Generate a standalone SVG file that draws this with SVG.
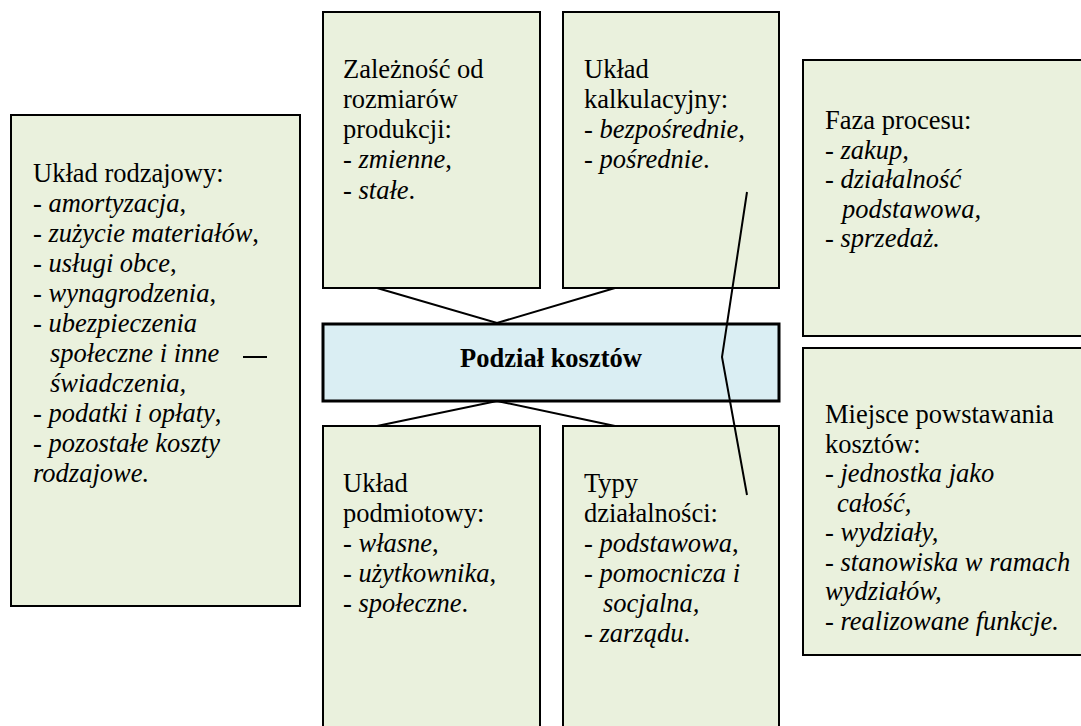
<svg xmlns="http://www.w3.org/2000/svg" width="1081" height="726" viewBox="0 0 1081 726">
<style>
.box{fill:#EAF1DD;stroke:#000;stroke-width:2}
.center{fill:#DAEEF3;stroke:#000;stroke-width:3}
text{font-family:'Liberation Serif','Times New Roman',serif;font-size:26.5px;fill:#000}
.i{font-style:italic}
.b{font-weight:bold}
.con{fill:none;stroke:#000;stroke-width:2}
</style>
<rect width="1081" height="726" fill="#fff"/>
<g id="uklad-rodzajowy">
<rect class="box" x="11" y="115" width="289" height="491"/>
<text x="33" y="182">Układ rodzajowy:</text>
<text x="33" y="212">- <tspan class="i">amortyzacja</tspan>,</text>
<text x="33" y="242">- <tspan class="i">zużycie materiałów</tspan>,</text>
<text x="33" y="272">- <tspan class="i">usługi obce</tspan>,</text>
<text x="33" y="302">- <tspan class="i">wynagrodzenia</tspan>,</text>
<text x="33" y="332">- <tspan class="i">ubezpieczenia</tspan></text>
<text x="50" y="362" class="i">społeczne i inne</text>
<text x="50" y="392" class="i">świadczenia,</text>
<text x="33" y="422">- <tspan class="i">podatki i opłaty</tspan>,</text>
<text x="33" y="452">- <tspan class="i">pozostałe koszty</tspan></text>
<text x="33" y="482" class="i">rodzajowe.</text>
</g>
<g id="zaleznosc">
<rect class="box" x="323" y="12" width="217" height="276"/>
<text x="343" y="78">Zależność od</text>
<text x="343" y="108">rozmiarów</text>
<text x="343" y="138">produkcji:</text>
<text x="343" y="168">- <tspan class="i">zmienne</tspan>,</text>
<text x="343" y="199">- <tspan class="i">stałe</tspan>.</text>
</g>
<g id="kalkulacyjny">
<rect class="box" x="563" y="12" width="216" height="276"/>
<text x="584" y="78">Układ</text>
<text x="584" y="108">kalkulacyjny:</text>
<text x="584" y="138">- <tspan class="i">bezpośrednie</tspan>,</text>
<text x="584" y="168">- <tspan class="i">pośrednie</tspan>.</text>
</g>
<g id="podzial">
<rect class="center" x="323" y="324" width="456" height="77"/>
<text x="551" y="367" class="b" text-anchor="middle">Podział kosztów</text>
</g>
<g id="podmiotowy">
<rect class="box" x="323" y="426" width="217" height="320"/>
<text x="343" y="492">Układ</text>
<text x="343" y="522">podmiotowy:</text>
<text x="343" y="552">- <tspan class="i">własne</tspan>,</text>
<text x="343" y="582">- <tspan class="i">użytkownika</tspan>,</text>
<text x="343" y="612">- <tspan class="i">społeczne</tspan>.</text>
</g>
<g id="typy">
<rect class="box" x="563" y="426" width="216" height="320"/>
<text x="584" y="492">Typy</text>
<text x="584" y="522">działalności:</text>
<text x="584" y="552">- <tspan class="i">podstawowa</tspan>,</text>
<text x="584" y="582">- <tspan class="i">pomocnicza i</tspan></text>
<text x="603" y="612" class="i">socjalna,</text>
<text x="584" y="642">- <tspan class="i">zarządu</tspan>.</text>
</g>
<g id="faza">
<rect class="box" x="803" y="60" width="290" height="276"/>
<text x="825" y="129">Faza procesu:</text>
<text x="825" y="158.5" class="i">- zakup,</text>
<text x="825" y="188" class="i">- działalność</text>
<text x="842" y="217.5" class="i">podstawowa,</text>
<text x="825" y="247" class="i">- sprzedaż.</text>
</g>
<g id="miejsce">
<rect class="box" x="803" y="348" width="290" height="307"/>
<text x="825" y="423">Miejsce powstawania</text>
<text x="825" y="452.5">kosztów:</text>
<text x="825" y="482" class="i">- jednostka jako</text>
<text x="837" y="511.5" class="i">całość,</text>
<text x="825" y="541" class="i">- wydziały,</text>
<text x="825" y="570.5" class="i">- stanowiska w ramach</text>
<text x="825" y="600" class="i">wydziałów,</text>
<text x="825" y="629.5" class="i">- realizowane funkcje.</text>
</g>
<g id="connectors">
<polyline class="con" points="377,288 497,323 615,288"/>
<polyline class="con" points="377,426 497,401 615,426"/>
<polyline class="con" points="747,192 722,357 747,495"/>
<line class="con" x1="243" y1="357" x2="267" y2="357"/>
</g>
</svg>
